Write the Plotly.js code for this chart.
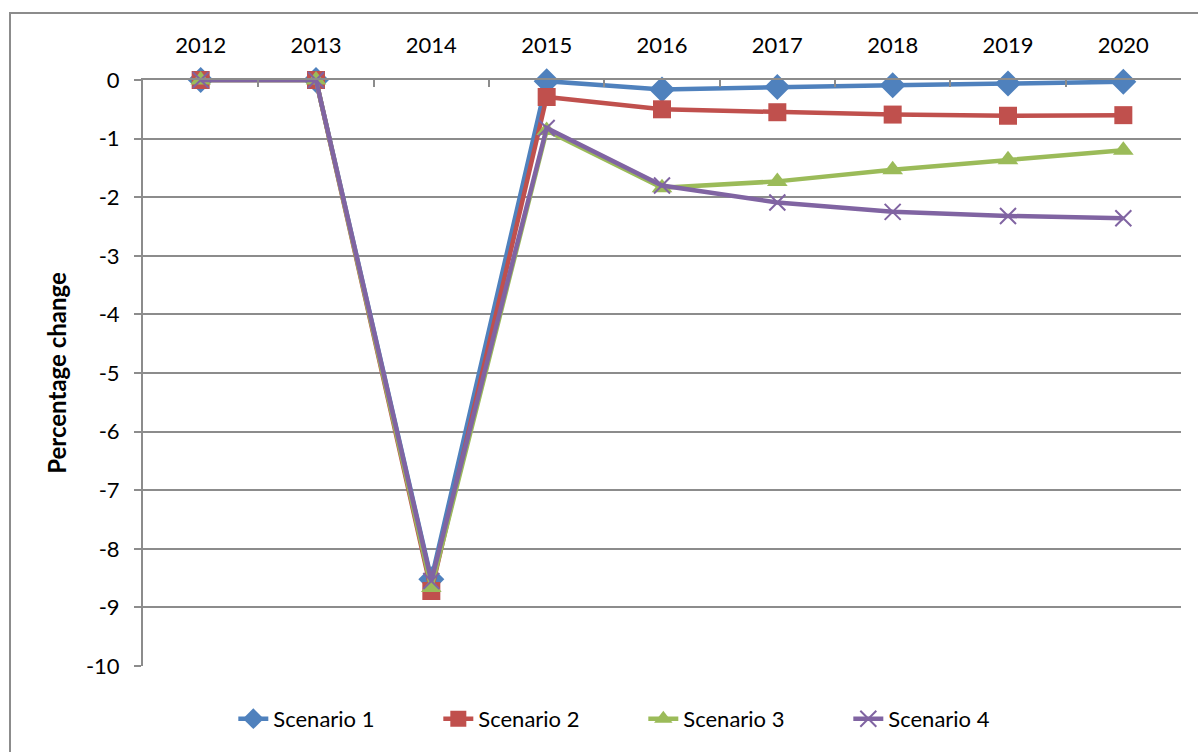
<!DOCTYPE html>
<html><head><meta charset="utf-8">
<script src="https://cdn.plot.ly/plotly-3.0.1.min.js"></script>
<style>
html,body{margin:0;padding:0;background:#fff;}
#chart{width:1198px;height:752px;position:absolute;left:0;top:0;}
#frame{position:absolute;left:9px;top:12px;width:1200px;height:760px;border:2px solid #8c8c8c;pointer-events:none;}
</style></head>
<body>
<div id="chart"></div>
<div id="frame"></div>
<script>
const years = ['2012','2013','2014','2015','2016','2017','2018','2019','2020'];
const scenario1 = [0, 0, -8.52, -0.02, -0.16, -0.12, -0.09, -0.06, -0.03];
const scenario2 = [0, 0, -8.72, -0.29, -0.50, -0.55, -0.59, -0.61, -0.60];
const scenario3 = [0, 0, -8.66, -0.86, -1.84, -1.73, -1.53, -1.36, -1.20];
const scenario4 = [0, 0, -8.55, -0.82, -1.80, -2.09, -2.25, -2.32, -2.36];
const yTickVals = [0, -1, -2, -3, -4, -5, -6, -7, -8, -9, -10];
const yTickText = ['0', '-1', '-2', '-3', '-4', '-5', '-6', '-7', '-8', '-9', '-10'];
const names = ['Scenario 1','Scenario 2','Scenario 3','Scenario 4'];
const colors = ['#4F81BD','#C0504D','#9BBB59','#8064A2'];
const symbols = ['diamond','square','triangle-up','x-thin'];
const sizes = [20, 18, 18, 16];
const series = [scenario1, scenario2, scenario3, scenario4];

const font = 'Lato, "Open Sans", "Liberation Sans", sans-serif';
const traces = series.map((vals, i) => ({
  x: years, y: vals, type: 'scatter', mode: 'lines+markers', name: names[i],
  cliponaxis: false,
  line: {color: colors[i], width: 4.5},
  marker: {symbol: symbols[i], size: sizes[i], color: colors[i],
           line: {color: colors[i], width: i === 3 ? 2 : 0}}
}));

const layout = {
  width: 1198, height: 752,
  margin: {l: 143, r: 17, t: 80, b: 86, autoexpand: false},
  paper_bgcolor: '#fff', plot_bgcolor: '#fff',
  showlegend: true,
  legend: {orientation: 'h', x: 0.482, xref: 'paper', xanchor: 'center',
           yref: 'container', y: 0.044, yanchor: 'middle',
           entrywidth: 160, entrywidthmode: 'pixels',
           font: {family: font, size: 22, color: '#000'}, traceorder: 'normal'},
  xaxis: {
    type: 'category', side: 'top', range: [-0.5, 8.5],
    showgrid: false, showline: true, linecolor: '#8c8c8c', linewidth: 2,
    ticks: 'inside', ticklen: 7, tickcolor: '#8c8c8c', tickwidth: 2,
    tickson: 'boundaries', ticklabelstandoff: 16,
    tickfont: {family: font, size: 22, color: '#000'},
    fixedrange: true, zeroline: false, automargin: false
  },
  yaxis: {
    range: [-10, 0], tickmode: 'array', tickvals: yTickVals, ticktext: yTickText,
    showgrid: true, gridcolor: '#8c8c8c', gridwidth: 2,
    showline: true, linecolor: '#8c8c8c', linewidth: 2,
    ticks: 'outside', ticklen: 7, tickcolor: '#8c8c8c', tickwidth: 2,
    ticklabelstandoff: 10,
    tickfont: {family: font, size: 22, color: '#000'},
    zeroline: false, automargin: false,
    title: {text: '<b>Percentage change</b>', font: {family: font, size: 24, color: '#000'}, standoff: 12}
  }
};
Plotly.newPlot('chart', traces, layout, {staticPlot: true});
</script>
</body></html>
